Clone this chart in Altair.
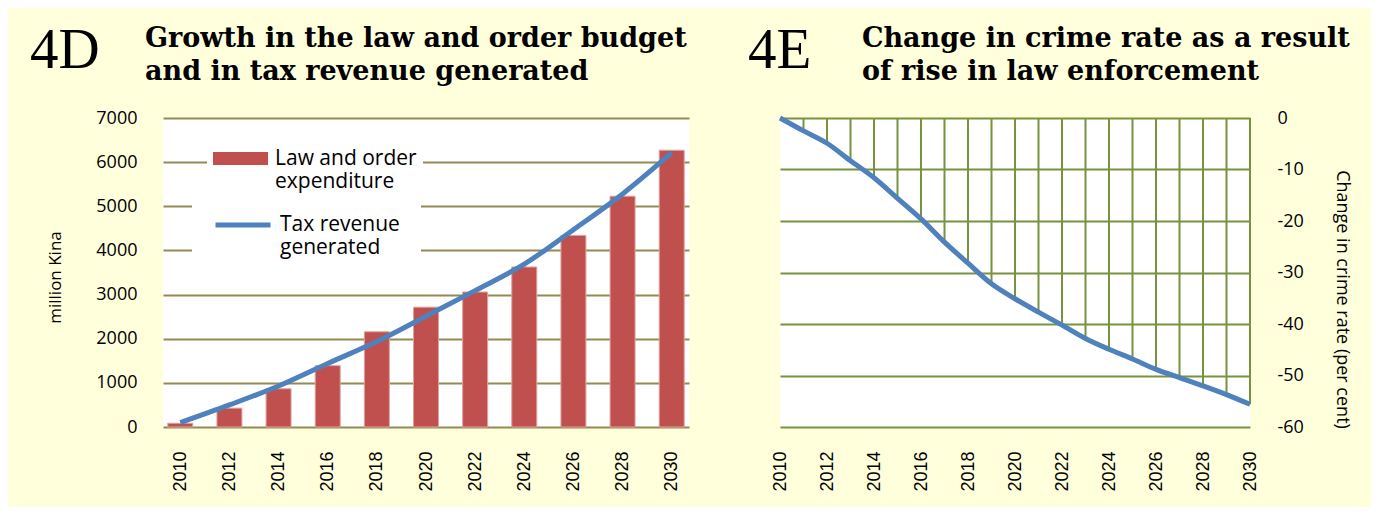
import altair as alt
import pandas as pd

# ---- data ----
years_d = [2010, 2012, 2014, 2016, 2018, 2020, 2022, 2024, 2026, 2028, 2030]
law_order_exp = [85, 427, 866, 1390, 2157, 2715, 3058, 3625, 4340, 5228, 6270]
tax_revenue = [100, 500, 930, 1440, 1935, 2510, 3090, 3690, 4470, 5280, 6215]

years_e = [2010, 2011, 2012, 2013, 2014, 2015, 2016, 2017, 2018, 2019, 2020,
           2021, 2022, 2023, 2024, 2025, 2026, 2027, 2028, 2029, 2030]
crime_change = [0, -2.5, -4.9, -8.3, -11.6, -15.6, -19.6, -24.1, -28.2, -32.2, -35.1,
                -37.7, -40.2, -42.8, -44.9, -46.8, -48.8, -50.4, -52.0, -53.7, -55.6]

y_ticks_d = [0, 1000, 2000, 3000, 4000, 5000, 6000, 7000]
y_ticks_e = [0, -10, -20, -30, -40, -50, -60]
x_ticks = [2010, 2012, 2014, 2016, 2018, 2020, 2022, 2024, 2026, 2028, 2030]

series_bar = "Law and order|expenditure"
series_line = "Tax revenue|generated"
title_d = ["Growth in the law and order budget", "and in tax revenue generated"]
title_e = ["Change in crime rate as a result", "of rise in law enforcement"]

BG = "#FFFFDC"
W1, W2, H = 526, 470, 309

df_d = pd.DataFrame({"year": years_d, "law": law_order_exp, "tax": tax_revenue,
                     "s1": series_bar, "s2": series_line})
df_e = pd.DataFrame({"year": years_e, "change": crime_change})
one = pd.DataFrame({"k": [0]})


def x_axis():
    return alt.Axis(values=x_ticks, format="d", labelAngle=-90, labelFont="Liberation Sans",
                    labelFontSize=18, labelColor="black", labelPadding=24, ticks=False,
                    domain=False, grid=False, title=None, labelFlush=False, labelOverlap=False)


yaxis_d = alt.Axis(values=y_ticks_d, format="d", grid=True, gridColor="#948A54", gridWidth=2,
                   ticks=False, domain=False, labelFont="Open Sans", labelFontSize=18,
                   labelColor="black", labelPadding=26, title="million Kina",
                   titleFont="Open Sans", titleFontSize=17, titleFontWeight="normal",
                   titleColor="black", titleAngle=-90, titleX=-108, titleY=159,
                   titleAlign="center", titleBaseline="middle")
xscale_d = alt.Scale(domain=[2009.5, 2030.5], nice=False, zero=False)
yscale_d = alt.Scale(domain=[0, 7000], nice=False)

legend_common = dict(title=None, orient="none", symbolSize=3025, labelFont="Open Sans",
                     labelFontSize=21, labelColor="black", labelOffset=7,
                     labelExpr="split(datum.label, '|')", labelLimit=400, fillColor="white")

bars = alt.Chart(df_d).mark_bar(size=25, stroke="#DDA3A1", strokeWidth=1).encode(
    x=alt.X("year:Q", scale=xscale_d, axis=x_axis()),
    y=alt.Y("law:Q", scale=yscale_d, axis=yaxis_d),
    fill=alt.Fill("s1:N", scale=alt.Scale(range=["#C0504D"]), legend=alt.Legend(
        legendX=44, legendY=7, padding=6, zindex=2,
        symbolType="M-1,-0.236H1V0.236H-1Z", symbolStrokeWidth=0, **legend_common)),
)

line_d = alt.Chart(df_d).mark_line(strokeWidth=5, interpolate="monotone").encode(
    x=alt.X("year:Q", scale=xscale_d, axis=x_axis()),
    y=alt.Y("tax:Q", scale=yscale_d, axis=yaxis_d),
    stroke=alt.Stroke("s2:N", scale=alt.Scale(range=["#4F81BD"]), legend=alt.Legend(
        legendX=29, legendY=56, padding=21, zindex=1,
        symbolType="M-1,0H1", symbolStrokeWidth=5, **legend_common)),
)

big_d = alt.Chart(one).mark_text(font="Liberation Serif", fontSize=57, align="left",
                                 baseline="alphabetic", color="black").encode(
    x=alt.value(-133), y=alt.value(-50), text=alt.value("4D"))
ttl_d = alt.Chart(one).mark_text(font="DejaVu Serif", fontWeight="bold", fontSize=27,
                                 align="left", baseline="alphabetic", lineHeight=33,
                                 color="black").encode(
    x=alt.value(-18), y=alt.value(-71), text=alt.value(title_d))
anchor_tl = alt.Chart(one).mark_rect(opacity=0).encode(
    x=alt.value(-155), x2=alt.value(-154), y=alt.value(-110), y2=alt.value(-109))

left = alt.layer(bars, line_d, big_d, ttl_d, anchor_tl).properties(width=W1, height=H)

# ---- right panel ----
xscale_e = alt.Scale(domain=[2010, 2030], nice=False, zero=False)
yscale_e = alt.Scale(domain=[-60, 0], nice=False)
yaxis_e = alt.Axis(orient="right", values=y_ticks_e, labelExpr="'' + datum.value",
                   grid=True, gridColor="#77933C", gridWidth=2,
                   ticks=False, domain=False, labelFont="Open Sans", labelFontSize=18,
                   labelColor="black", labelPadding=27, title="Change in crime rate (per cent)",
                   titleFont="Open Sans", titleFontSize=18, titleFontWeight="normal",
                   titleColor="black", titleAngle=90, titleX=91, titleY=181,
                   titleAlign="center", titleBaseline="middle")

rules = alt.Chart(df_e).mark_rule(color="#77933C", strokeWidth=2).encode(
    x=alt.X("year:Q", scale=xscale_e, axis=x_axis()),
    y=alt.Y("change:Q", scale=yscale_e, axis=yaxis_e),
    y2=alt.datum(0),
)
line_e = alt.Chart(df_e).mark_line(color="#4F81BD", strokeWidth=5, interpolate="monotone").encode(
    x=alt.X("year:Q", scale=xscale_e, axis=x_axis()),
    y=alt.Y("change:Q", scale=yscale_e, axis=yaxis_e),
)
big_e = alt.Chart(one).mark_text(font="Liberation Serif", fontSize=57, align="left",
                                 baseline="alphabetic", color="black").encode(
    x=alt.value(-32), y=alt.value(-50), text=alt.value("4E"))
ttl_e = alt.Chart(one).mark_text(font="DejaVu Serif", fontWeight="bold", fontSize=27,
                                 align="left", baseline="alphabetic", lineHeight=33,
                                 color="black").encode(
    x=alt.value(82), y=alt.value(-71), text=alt.value(title_e))
anchor_br = alt.Chart(one).mark_rect(opacity=0).encode(
    x=alt.value(590), x2=alt.value(591), y=alt.value(388), y2=alt.value(389))

right = alt.layer(rules, line_e, big_e, ttl_e, anchor_br).properties(width=W2, height=H)

chart = alt.hconcat(left, right, spacing=91, bounds="flush").properties(
    padding=0, background=BG
).configure_view(fill="white", stroke=None)

chart.save("out.html", embed_options={"renderer": "svg", "actions": False})
